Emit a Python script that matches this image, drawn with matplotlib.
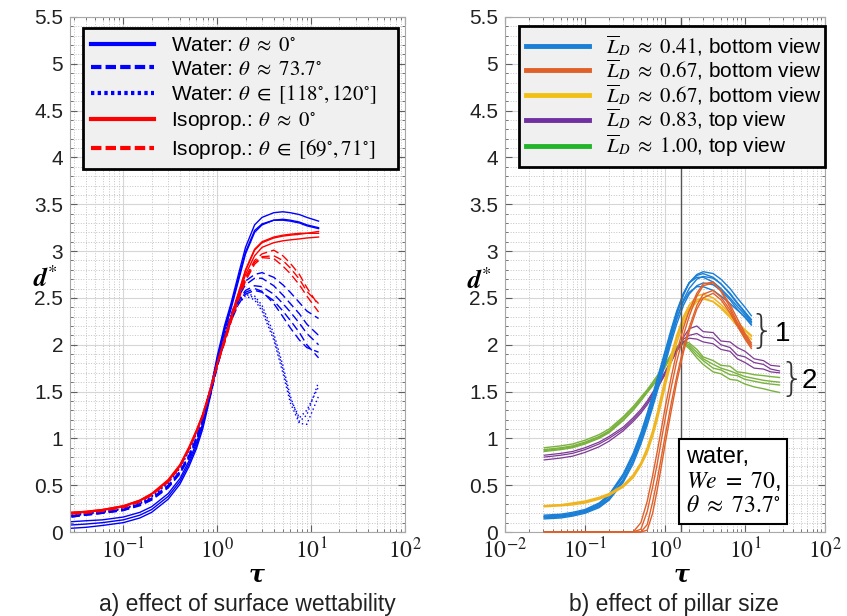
import numpy as np
import matplotlib
matplotlib.use('Agg')
import matplotlib.pyplot as plt
from matplotlib.lines import Line2D
from matplotlib.ticker import MultipleLocator, LogLocator, NullFormatter, FuncFormatter

plt.rcParams['font.family'] = ['Liberation Sans', 'DejaVu Sans']
plt.rcParams['mathtext.fontset'] = 'stix'

# ---------------- data: panel a) surface wettability ----------------
TAU_A = [0.028, 0.04, 0.06, 0.1, 0.15, 0.2, 0.3, 0.4, 0.5, 0.6, 0.7, 0.85, 1.0,
         1.2, 1.4, 1.7, 2.0, 2.5, 3.0, 4.0, 5.0, 6.0, 7.5, 9.0, 12.0]

water_0 = [
    [0.11, 0.12, 0.13, 0.16, 0.21, 0.27, 0.41, 0.57, 0.76, 0.95, 1.16, 1.52, 1.88, 2.21, 2.44, 2.77, 3.04, 3.28, 3.36, 3.41, 3.42, 3.41, 3.39, 3.36, 3.32],
    [0.075, 0.085, 0.10, 0.13, 0.18, 0.24, 0.38, 0.54, 0.73, 0.92, 1.13, 1.49, 1.85, 2.18, 2.41, 2.73, 2.99, 3.22, 3.29, 3.33, 3.33, 3.32, 3.30, 3.27, 3.24],
    [0.04, 0.05, 0.07, 0.10, 0.15, 0.21, 0.35, 0.51, 0.70, 0.89, 1.10, 1.46, 1.82, 2.15, 2.38, 2.70, 2.97, 3.20, 3.28, 3.33, 3.34, 3.33, 3.31, 3.28, 3.25],
]
water_74 = [
    [0.17, 0.19, 0.21, 0.24, 0.30, 0.36, 0.50, 0.65, 0.82, 1.01, 1.20, 1.50, 1.80, 2.10, 2.32, 2.55, 2.68, 2.75, 2.77, 2.72, 2.64, 2.56, 2.45, 2.36, 2.28],
    [0.16, 0.18, 0.20, 0.23, 0.29, 0.35, 0.48, 0.63, 0.80, 0.99, 1.18, 1.48, 1.78, 2.08, 2.30, 2.52, 2.64, 2.71, 2.71, 2.63, 2.53, 2.44, 2.33, 2.22, 2.10],
    [0.17, 0.19, 0.21, 0.24, 0.30, 0.36, 0.49, 0.64, 0.81, 1.00, 1.19, 1.49, 1.78, 2.07, 2.28, 2.48, 2.58, 2.63, 2.62, 2.54, 2.44, 2.35, 2.23, 2.12, 2.00],
    [0.16, 0.18, 0.20, 0.23, 0.28, 0.34, 0.47, 0.62, 0.79, 0.98, 1.17, 1.47, 1.76, 2.05, 2.25, 2.44, 2.54, 2.58, 2.56, 2.47, 2.36, 2.26, 2.13, 2.00, 1.86],
    [0.17, 0.19, 0.21, 0.24, 0.29, 0.35, 0.48, 0.63, 0.80, 0.99, 1.18, 1.48, 1.77, 2.06, 2.27, 2.47, 2.56, 2.60, 2.57, 2.44, 2.30, 2.18, 2.05, 1.97, 1.92],
]
water_119 = [
    [0.18, 0.20, 0.22, 0.25, 0.31, 0.38, 0.53, 0.69, 0.87, 1.06, 1.25, 1.55, 1.84, 2.12, 2.32, 2.48, 2.55, 2.52, 2.42, 2.12, 1.78, 1.45, 1.18, 1.25, 1.60],
    [0.17, 0.19, 0.21, 0.24, 0.30, 0.37, 0.52, 0.68, 0.86, 1.05, 1.24, 1.53, 1.82, 2.10, 2.29, 2.44, 2.52, 2.48, 2.36, 2.05, 1.70, 1.38, 1.16, 1.15, 1.45],
    [0.18, 0.20, 0.22, 0.25, 0.31, 0.38, 0.53, 0.69, 0.87, 1.06, 1.25, 1.54, 1.83, 2.11, 2.31, 2.47, 2.54, 2.50, 2.39, 2.08, 1.74, 1.42, 1.22, 1.30, 1.55],
]
iso_0 = [
    [0.21, 0.22, 0.24, 0.28, 0.34, 0.41, 0.55, 0.71, 0.90, 1.08, 1.25, 1.53, 1.80, 2.06, 2.29, 2.56, 2.79, 3.01, 3.09, 3.14, 3.16, 3.17, 3.18, 3.19, 3.21],
    [0.20, 0.21, 0.23, 0.27, 0.33, 0.40, 0.54, 0.70, 0.89, 1.07, 1.24, 1.52, 1.79, 2.04, 2.27, 2.53, 2.75, 2.95, 3.04, 3.09, 3.11, 3.12, 3.13, 3.14, 3.15],
    [0.21, 0.22, 0.24, 0.28, 0.34, 0.41, 0.56, 0.72, 0.91, 1.09, 1.26, 1.54, 1.81, 2.07, 2.30, 2.57, 2.80, 3.02, 3.10, 3.15, 3.17, 3.18, 3.19, 3.19, 3.19],
]
iso_70 = [
    [0.20, 0.21, 0.23, 0.27, 0.33, 0.40, 0.54, 0.70, 0.89, 1.07, 1.24, 1.52, 1.79, 2.04, 2.26, 2.52, 2.72, 2.90, 2.97, 3.01, 2.95, 2.87, 2.75, 2.61, 2.42],
    [0.19, 0.20, 0.22, 0.26, 0.32, 0.39, 0.53, 0.69, 0.88, 1.06, 1.23, 1.51, 1.78, 2.02, 2.24, 2.49, 2.68, 2.86, 2.93, 2.92, 2.84, 2.76, 2.64, 2.52, 2.35],
    [0.20, 0.21, 0.23, 0.27, 0.33, 0.40, 0.54, 0.70, 0.89, 1.07, 1.24, 1.52, 1.78, 2.03, 2.25, 2.50, 2.70, 2.88, 2.94, 2.95, 2.90, 2.82, 2.70, 2.57, 2.44],
]

# ---------------- data: panel b) pillar size ----------------
TAU_B = [0.031, 0.05, 0.07, 0.1, 0.15, 0.2, 0.3, 0.4, 0.5, 0.6, 0.7, 0.8, 0.9, 1.0,
         1.2, 1.4, 1.7, 2.0, 2.5, 3.0, 4.0, 5.0, 6.5, 8.0, 10.0, 12.0]
TAU_C = [0.031, 0.05, 0.07, 0.1, 0.15, 0.2, 0.3, 0.4, 0.5, 0.6, 0.7, 0.8, 0.9, 1.0,
         1.2, 1.4, 1.7, 2.0, 2.5, 3.0, 4.0, 5.0, 6.5, 8.0, 10.0, 13.0, 17.0, 21.0, 27.0]

ld041 = [
    [0.16, 0.17, 0.19, 0.22, 0.29, 0.38, 0.59, 0.80, 1.02, 1.22, 1.41, 1.58, 1.73, 1.87, 2.12, 2.32, 2.53, 2.66, 2.75, 2.78, 2.76, 2.70, 2.60, 2.50, 2.40, 2.31],
    [0.15, 0.16, 0.18, 0.21, 0.27, 0.35, 0.55, 0.76, 0.97, 1.17, 1.36, 1.53, 1.68, 1.82, 2.07, 2.27, 2.48, 2.60, 2.70, 2.73, 2.71, 2.65, 2.55, 2.45, 2.35, 2.27],
    [0.17, 0.18, 0.20, 0.23, 0.30, 0.39, 0.60, 0.82, 1.04, 1.25, 1.44, 1.62, 1.77, 1.91, 2.15, 2.34, 2.54, 2.66, 2.74, 2.76, 2.72, 2.65, 2.54, 2.44, 2.34, 2.25],
    [0.14, 0.15, 0.17, 0.20, 0.26, 0.34, 0.53, 0.73, 0.94, 1.14, 1.33, 1.50, 1.65, 1.79, 2.03, 2.22, 2.42, 2.54, 2.63, 2.66, 2.64, 2.58, 2.48, 2.38, 2.29, 2.21],
    [0.18, 0.19, 0.21, 0.24, 0.31, 0.40, 0.62, 0.84, 1.06, 1.27, 1.46, 1.64, 1.79, 1.93, 2.17, 2.36, 2.55, 2.66, 2.72, 2.72, 2.67, 2.60, 2.50, 2.41, 2.32, 2.24],
    [0.16, 0.17, 0.19, 0.22, 0.28, 0.36, 0.56, 0.77, 0.99, 1.20, 1.39, 1.56, 1.71, 1.85, 2.09, 2.28, 2.46, 2.56, 2.62, 2.62, 2.58, 2.52, 2.44, 2.37, 2.30, 2.22],
]
ld067_a = [
    [0, 0, 0, 0, 0, 0, 0, 0, 0.03, 0.22, 0.48, 0.73, 0.98, 1.20, 1.55, 1.82, 2.10, 2.30, 2.52, 2.63, 2.66, 2.58, 2.43, 2.28, 2.12, 2.02],
    [0, 0, 0, 0, 0, 0, 0, 0, 0, 0.08, 0.32, 0.56, 0.80, 1.02, 1.38, 1.66, 1.97, 2.18, 2.42, 2.54, 2.58, 2.51, 2.37, 2.22, 2.08, 1.98],
    [0, 0, 0, 0, 0, 0, 0, 0, 0.10, 0.33, 0.60, 0.86, 1.10, 1.32, 1.66, 1.92, 2.18, 2.36, 2.55, 2.65, 2.67, 2.57, 2.40, 2.24, 2.10, 2.00],
    [0, 0, 0, 0, 0, 0, 0, 0, 0, 0.02, 0.20, 0.45, 0.70, 0.93, 1.30, 1.60, 1.92, 2.14, 2.38, 2.50, 2.55, 2.48, 2.34, 2.20, 2.06, 1.96],
]
ld067_b = [
    [0.28, 0.29, 0.30, 0.32, 0.36, 0.40, 0.49, 0.60, 0.73, 0.88, 1.06, 1.25, 1.43, 1.60, 1.87, 2.07, 2.27, 2.39, 2.48, 2.50, 2.46, 2.39, 2.29, 2.20, 2.12, 2.06],
    [0.27, 0.28, 0.29, 0.31, 0.35, 0.39, 0.48, 0.58, 0.71, 0.85, 1.02, 1.20, 1.38, 1.55, 1.82, 2.02, 2.23, 2.36, 2.46, 2.49, 2.46, 2.40, 2.31, 2.23, 2.15, 2.09],
    [0.28, 0.29, 0.31, 0.33, 0.37, 0.41, 0.50, 0.61, 0.74, 0.90, 1.08, 1.27, 1.46, 1.63, 1.90, 2.10, 2.30, 2.42, 2.52, 2.54, 2.50, 2.43, 2.33, 2.24, 2.16, 2.10],
]
ld083 = [
    [0.77, 0.79, 0.81, 0.85, 0.91, 0.97, 1.08, 1.18, 1.27, 1.36, 1.45, 1.53, 1.61, 1.68, 1.82, 1.94, 2.08, 2.17, 2.20, 2.14, 2.13, 2.04, 2.03, 1.97, 1.93, 1.85, 1.83, 1.78, 1.77],
    [0.82, 0.84, 0.86, 0.90, 0.96, 1.02, 1.12, 1.22, 1.31, 1.40, 1.49, 1.57, 1.64, 1.71, 1.84, 1.95, 2.06, 2.10, 2.12, 2.08, 2.07, 2.00, 1.97, 1.89, 1.87, 1.81, 1.79, 1.74, 1.72],
    [0.80, 0.82, 0.84, 0.88, 0.94, 1.00, 1.10, 1.20, 1.29, 1.38, 1.47, 1.55, 1.62, 1.69, 1.82, 1.93, 2.03, 2.07, 2.06, 2.03, 2.01, 1.95, 1.93, 1.85, 1.81, 1.75, 1.74, 1.71, 1.70],
]
ld100 = [
    [0.88, 0.90, 0.92, 0.96, 1.02, 1.08, 1.22, 1.33, 1.42, 1.51, 1.58, 1.65, 1.72, 1.78, 1.90, 1.98, 2.04, 2.02, 1.95, 1.87, 1.83, 1.78, 1.77, 1.71, 1.70, 1.68, 1.67, 1.66, 1.65],
    [0.86, 0.88, 0.90, 0.94, 1.00, 1.06, 1.19, 1.30, 1.40, 1.49, 1.56, 1.63, 1.70, 1.76, 1.88, 1.96, 2.02, 1.98, 1.89, 1.83, 1.75, 1.73, 1.68, 1.67, 1.63, 1.61, 1.59, 1.58, 1.57],
    [0.90, 0.92, 0.94, 0.98, 1.04, 1.10, 1.23, 1.34, 1.44, 1.52, 1.60, 1.67, 1.73, 1.79, 1.90, 1.97, 2.01, 1.96, 1.86, 1.79, 1.71, 1.69, 1.63, 1.62, 1.58, 1.55, 1.53, 1.51, 1.49],
    [0.87, 0.89, 0.91, 0.95, 1.01, 1.07, 1.20, 1.31, 1.41, 1.50, 1.57, 1.64, 1.71, 1.77, 1.89, 1.97, 2.03, 2.00, 1.92, 1.85, 1.79, 1.75, 1.72, 1.69, 1.66, 1.64, 1.62, 1.61, 1.60],
]

BLUE, RED = '#0000ff', '#ff0000'
C_BLUE, C_ORANGE, C_YELLOW, C_PURPLE, C_GREEN = '#1a7fd6', '#e0602a', '#f0b51e', '#7e3a96', '#7ab23e'

W, H = 847, 616
fig = plt.figure(figsize=(W / 100, H / 100), dpi=100)
axL = fig.add_axes([70 / W, 1 - 532 / H, 335 / W, 515 / H])
axR = fig.add_axes([505 / W, 1 - 532 / H, 320 / W, 515 / H])


def style_axes(ax, xmin):
    ax.set_xscale('log')
    ax.set_xlim(xmin, 100)
    ax.set_ylim(0, 5.5)
    ax.yaxis.set_major_locator(MultipleLocator(0.5))
    ax.yaxis.set_minor_locator(MultipleLocator(0.1))
    ax.yaxis.set_major_formatter(FuncFormatter(lambda v, p: '%g' % v))
    ax.xaxis.set_major_locator(LogLocator(base=10, numticks=10))
    ax.xaxis.set_minor_locator(LogLocator(base=10, subs=np.arange(2, 10), numticks=20))
    ax.xaxis.set_minor_formatter(NullFormatter())
    ax.xaxis.set_major_formatter(FuncFormatter(lambda v, p: '$10^{%d}$' % round(np.log10(v))))
    ax.grid(which='major', color='#d6d6d6', lw=0.8)
    ax.grid(which='minor', color='#c4c4c4', ls=':', lw=0.7)
    ax.set_axisbelow(True)
    ax.tick_params(which='both', direction='in', top=True, right=True, color='#606060')
    ax.tick_params(which='major', length=5)
    ax.tick_params(which='minor', length=2.5)
    ax.tick_params(axis='y', labelsize=15, pad=5, labelcolor='#222222')
    ax.tick_params(axis='x', labelsize=17, pad=4, labelcolor='#222222')
    for s in ax.spines.values():
        s.set_color('#a8a8a8')
    ax.set_ylabel(r'$\mathbfit{d}^{*}$', fontsize=19, rotation=0, va='center', ha='center')
    ax.set_xlabel('τ', fontsize=17, fontweight='bold', fontstyle='italic', family='DejaVu Serif')


style_axes(axL, 0.027)
style_axes(axR, 0.01)
axL.yaxis.set_label_coords(-0.075, 0.492)
axR.yaxis.set_label_coords(-0.082, 0.488)
axL.xaxis.set_label_coords(0.558, -0.058)
axR.xaxis.set_label_coords(0.553, -0.058)

# panel a curves
for d in water_119:
    axL.plot(TAU_A, d, color=BLUE, lw=1, ls=(0, (1, 2)))
for d in water_74:
    axL.plot(TAU_A, d, color=BLUE, lw=1, ls=(0, (6, 3)))
for d in water_0:
    axL.plot(TAU_A, d, color=BLUE, lw=1)
for d in iso_70:
    axL.plot(TAU_A, d, color=RED, lw=1, ls=(0, (6, 3)))
for d in iso_0:
    axL.plot(TAU_A, d, color=RED, lw=1)

handles_a = [
    Line2D([], [], color=BLUE, lw=3),
    Line2D([], [], color=BLUE, lw=3, ls=(0, (2.5, 1))),
    Line2D([], [], color=BLUE, lw=3, ls=(0, (0.8, 0.8))),
    Line2D([], [], color=RED, lw=3),
    Line2D([], [], color=RED, lw=3, ls=(0, (2.5, 1))),
]
labels_a = [r'Water: $\theta\ \approx\ 0^{\circ}$',
            r'Water: $\theta\ \approx\ 73.7^{\circ}$',
            r'Water: $\theta\ \in\ [118^{\circ}, 120^{\circ}]$',
            r'Isoprop.: $\theta\ \approx\ 0^{\circ}$',
            r'Isoprop.: $\theta\ \in\ [69^{\circ}, 71^{\circ}]$']
legA = axL.legend(handles_a, labels_a, loc='upper left', bbox_to_anchor=(0.039, 0.979, 0.94, 0.0),
                  mode='expand', borderaxespad=0, fontsize=15, handlelength=3.0,
                  labelspacing=0.22, fancybox=False, framealpha=1, edgecolor='black')
legA.get_frame().set_linewidth(2)
legA.get_frame().set_facecolor('#f0f0f0')

# panel b curves
for d in ld100:
    axR.plot(TAU_C, d, color=C_GREEN, lw=1)
for d in ld083:
    axR.plot(TAU_C, d, color=C_PURPLE, lw=0.9)
for d in ld041:
    axR.plot(TAU_B, d, color=C_BLUE, lw=1)
for d in ld067_b:
    axR.plot(TAU_B, d, color=C_YELLOW, lw=1.1)
for d in ld067_a:
    axR.plot(TAU_B, d, color=C_ORANGE, lw=1, clip_on=False, zorder=3)
axR.axvline(1.6, color='#555555', lw=1)

handles_b = [Line2D([], [], color=c, lw=3.5) for c in
             ['#1a7fd6', '#e0602a', '#f2c014', '#7030a0', '#22b52a']]
labels_b = [r'$\overline{L}_D\ \approx\ 0.41$, bottom view',
            r'$\overline{L}_D\ \approx\ 0.67$, bottom view',
            r'$\overline{L}_D\ \approx\ 0.67$, bottom view',
            r'$\overline{L}_D\ \approx\ 0.83$, top view',
            r'$\overline{L}_D\ \approx\ 1.00$, top view']
legB = axR.legend(handles_b, labels_b, loc='upper left', bbox_to_anchor=(0.044, 0.9825, 0.956, 0.0),
                  mode='expand', borderaxespad=0, fontsize=15, handlelength=3.0,
                  labelspacing=0.0, borderpad=0.35, fancybox=False, framealpha=1, edgecolor='black')
legB.get_frame().set_linewidth(2)
legB.get_frame().set_facecolor('#f0f0f0')

axR.text(0.565, 0.03, 'water,\n$We\ =\ 70$,\n$\\theta\ \\approx\ 73.7^{\\circ}$', transform=axR.transAxes,
         fontsize=17, ha='left', va='bottom', linespacing=1.1,
         bbox=dict(boxstyle='square,pad=0.3', fc='white', ec='black', lw=1.5))

# braces marking groups 1 and 2
axR.text(0.803, 0.388, '}', transform=axR.transAxes, fontsize=28, ha='center', va='center',
         color='#333333', family='DejaVu Sans', fontweight='light')
axR.text(0.868, 0.385, '1', transform=axR.transAxes, fontsize=20, ha='center', va='center')
axR.text(0.896, 0.295, '}', transform=axR.transAxes, fontsize=28, ha='center', va='center',
         color='#333333', family='DejaVu Sans', fontweight='light')
axR.text(0.952, 0.293, '2', transform=axR.transAxes, fontsize=20, ha='center', va='center')

fig.text(247 / W, 1 - 604 / H, 'a) effect of surface wettability', fontsize=16.5,
         ha='center', va='center', color='#222222')
fig.text(674 / W, 1 - 604 / H, 'b) effect of pillar size', fontsize=16.5,
         ha='center', va='center', color='#222222')

fig.savefig('out.png', dpi=100)
